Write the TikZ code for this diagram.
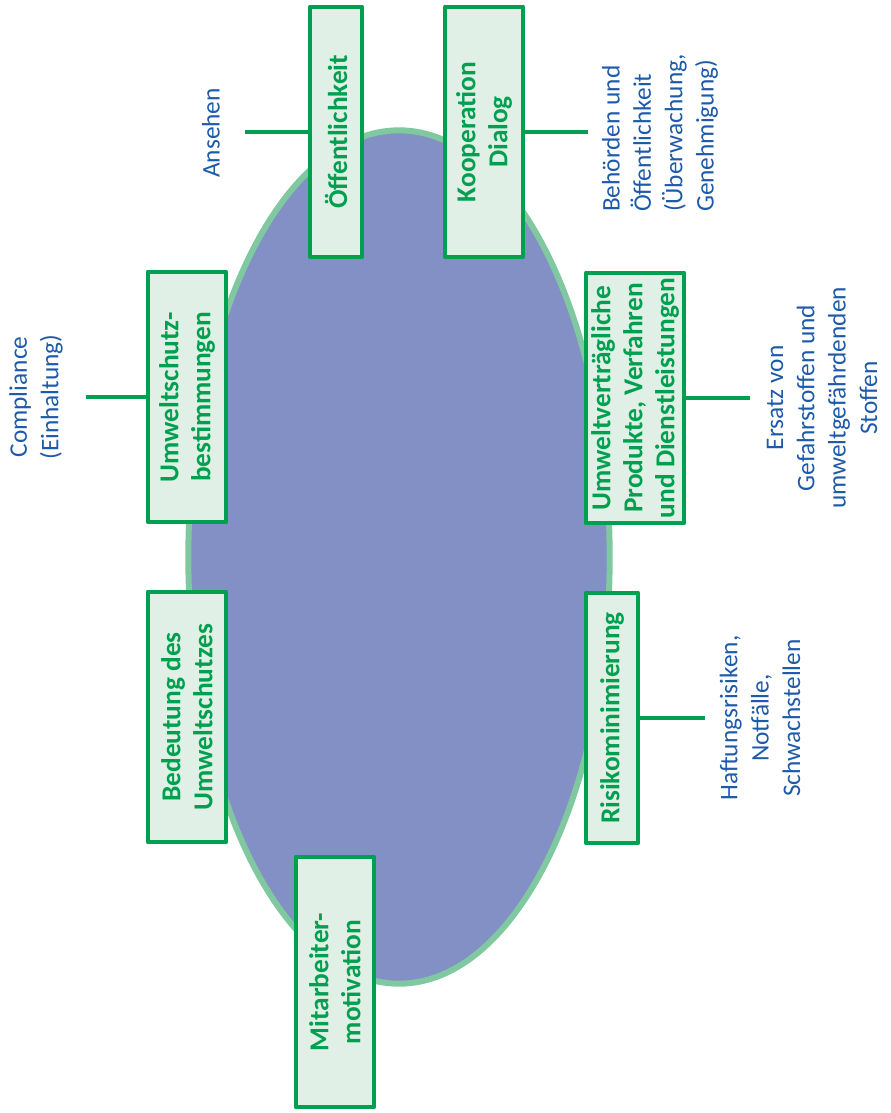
\documentclass[tikz,border=0pt]{standalone}
\usepackage{fontspec}
\setmainfont{Carlito}
\definecolor{boxgreen}{HTML}{00A050}
\definecolor{boxfill}{HTML}{E0F0E6}
\definecolor{ovalfill}{HTML}{8290C6}
\definecolor{ovalline}{HTML}{80C8A0}
\definecolor{noteblue}{HTML}{1E5AAA}
\begin{document}
\begin{tikzpicture}[x=0.75pt,y=0.75pt, line join=round,
    box/.style={draw=boxgreen, line width=3pt, fill=boxfill, rotate=90, align=center,
      minimum width=188pt, inner sep=2pt, text=boxgreen,
      font=\bfseries\fontsize{20.5}{24}\selectfont},
    note/.style={rotate=90, align=center, text=noteblue, font=\fontsize{19}{23.5}\selectfont},
    link/.style={draw=boxgreen, line width=3pt}]
    \useasboundingbox (0,0) rectangle (891,-1113);
    % Oval
    \draw[fill=ovalfill, draw=ovalline, line width=4.5pt] (399,-557) ellipse [x radius=158pt, y radius=320pt];
    % Boxes
    \node[box, minimum height=39pt] (oeff) at (336,-132) {Öffentlichkeit};
    \node[box, minimum height=58.5pt] (koop) at (484,-132) {Kooperation\\Dialog};
    \node[box, minimum height=58.5pt] (best) at (187,-397) {Umweltschutz-\\bestimmungen};
    \node[box, minimum height=73.5pt] (prod) at (635,-398) {Umweltverträgliche\\Produkte, Verfahren\\und Dienstleistungen};
    \node[box, minimum height=58.5pt] (bed) at (187,-717) {Bedeutung des\\Umweltschutzes};
    \node[box, minimum height=39pt] (risk) at (612,-718) {Risikominimierung};
    \node[box, minimum height=58.5pt] (mot) at (335,-982) {Mitarbeiter-\\motivation};
    % Notes
    \node[note] (ans) at (211,-133) {Ansehen};
    \node[note, align=left] (beh) at (660,-133) {Behörden und\\Öffentlichkeit\\(Überwachung,\\Genehmigung)};
    \node[note] (comp) at (36,-397) {Compliance\\(Einhaltung)};
    \node[note] (ers) at (822,-398) {Ersatz von\\Gefahrstoffen und\\umweltgefährdenden\\Stoffen};
    \node[note] (haft) at (760,-718) {Haftungsrisiken,\\Notfälle,\\Schwachstellen};
    % Connectors
    \coordinate (ansEnd) at (245,-132);
    \coordinate (behEnd) at (588,-132);
    \coordinate (compEnd) at (86,-397);
    \coordinate (ersEnd) at (750,-398);
    \coordinate (haftEnd) at (705,-718);
    \draw[link] (oeff) -- (ansEnd);
    \draw[link] (koop) -- (behEnd);
    \draw[link] (best) -- (compEnd);
    \draw[link] (prod) -- (ersEnd);
    \draw[link] (risk) -- (haftEnd);
\end{tikzpicture}
\end{document}
